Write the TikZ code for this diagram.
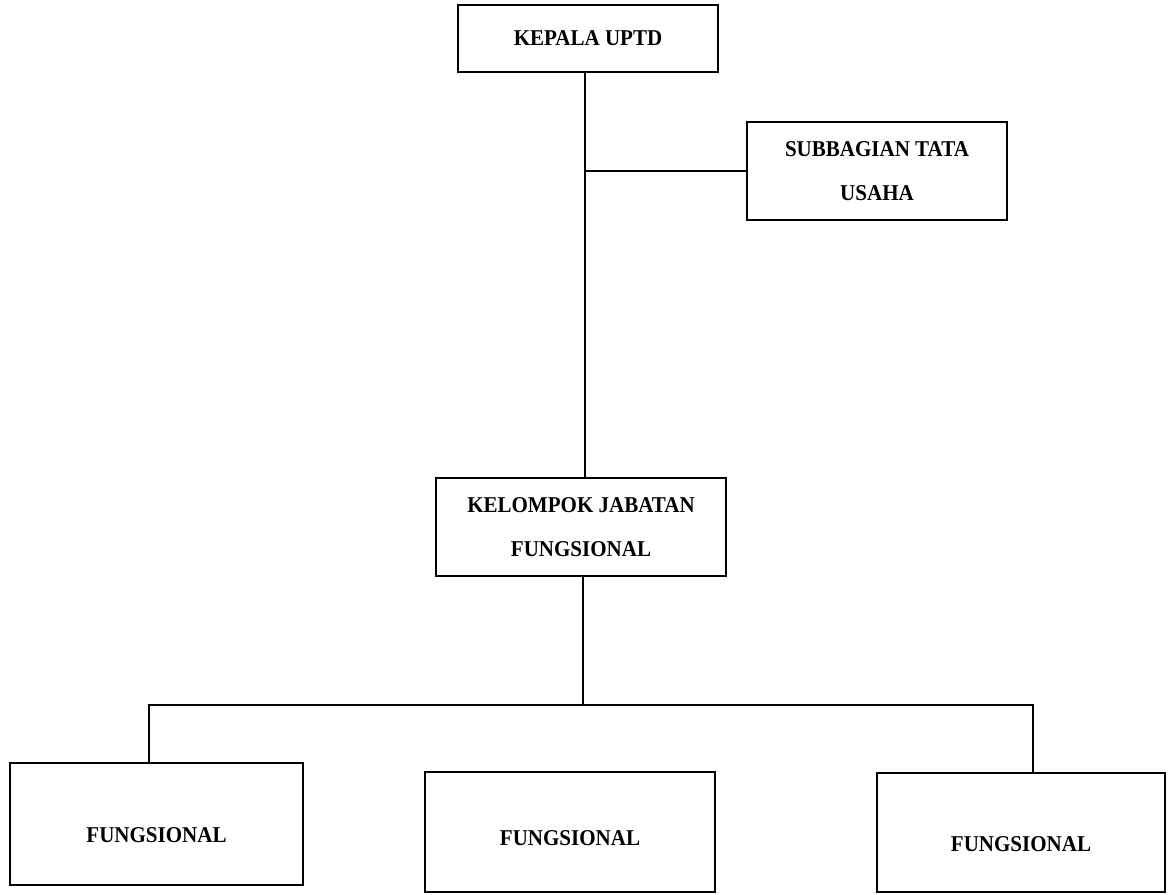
\documentclass[tikz,border=0pt]{standalone}
\usepackage{fontspec}
\setmainfont{Liberation Serif}[FakeStretch=0.93]
\begin{document}
\begin{tikzpicture}[x=0.5pt,y=-0.5pt,
  box/.style={draw=black,line width=1.2pt,rectangle,inner sep=0pt,align=center,
    font=\fontsize{11.3pt}{22pt}\selectfont\bfseries},
  lowtext/.style={text height=#1,text depth=0pt},
  conn/.style={draw=black,line width=1.1pt}]
\useasboundingbox (0,0) rectangle (1172,894);
\node[box,minimum width=130pt,minimum height=33.5pt] (kepala) at (588,38.5) {KEPALA UPTD};
\node[box,minimum width=130pt,minimum height=49pt] (sub) at (877,171) {SUBBAGIAN TATA\\USAHA};
\node[box,minimum width=145pt,minimum height=49pt] (kel) at (581,527) {KELOMPOK JABATAN\\FUNGSIONAL};
\node[box,lowtext=18.5pt,minimum width=146.5pt,minimum height=61pt] (f1) at (156.5,824) {FUNGSIONAL};
\node[box,lowtext=13.5pt,minimum width=145pt,minimum height=60pt] (f2) at (570,832) {FUNGSIONAL};
\node[box,lowtext=19pt,minimum width=144pt,minimum height=59.5pt] (f3) at (1021,832.5) {FUNGSIONAL};
\coordinate (trunk) at (585,0);
\coordinate (barL) at (149,705);
\coordinate (barR) at (1033,705);
\coordinate (jn) at (583,705);
\draw[conn] (kepala.south -| trunk) -- (kel.north -| trunk);
\draw[conn] (sub.west -| trunk) -- (sub.west);
\draw[conn] (kel.south -| jn) -- (jn);
\draw[conn] (barL |- f1.north) -- (barL) -- (barR) -- (barR |- f3.north);
\end{tikzpicture}
\end{document}
